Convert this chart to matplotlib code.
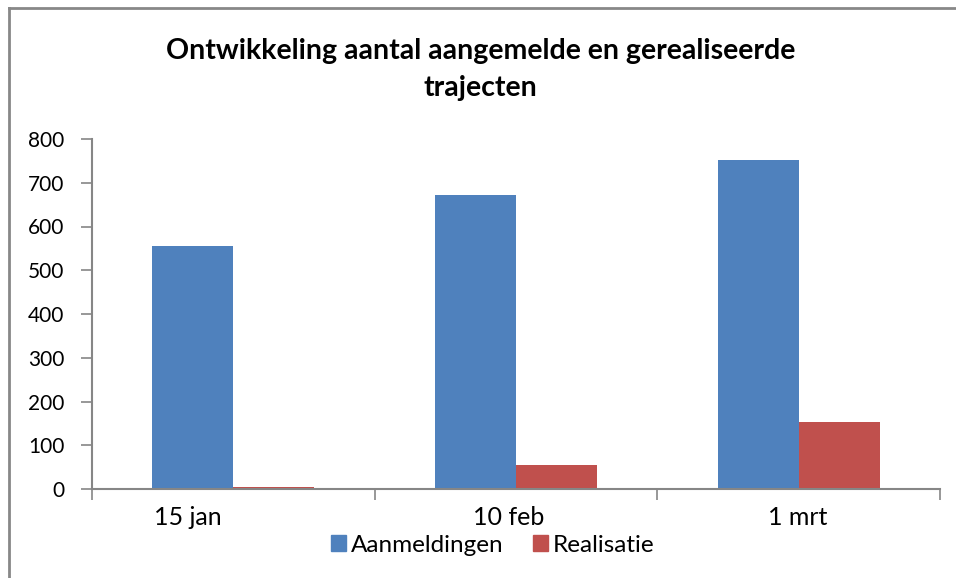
import matplotlib
matplotlib.use("Agg")
import matplotlib.pyplot as plt
import matplotlib.transforms as mtransforms
from matplotlib.lines import Line2D
from matplotlib.patches import Patch
import numpy as np

plt.rcParams['font.family'] = ['Lato', 'DejaVu Sans']

categories = ["15 jan", "10 feb", "1 mrt"]
aanmeldingen = [555, 673, 753]
realisatie = [4, 55, 153]
series_names = ["Aanmeldingen", "Realisatie"]
yticks = [0, 100, 200, 300, 400, 500, 600, 700, 800]

blue = '#4F81BD'
red = '#C0504D'
gray = '#868686'

W, H = 956, 578
fig = plt.figure(figsize=(W / 100, H / 100), dpi=100)
fig.patch.set_facecolor('white')

ax = fig.add_axes([92 / W, 1 - 489 / H, (940 - 92) / W, (489 - 139) / H])
x = np.arange(len(categories))
bw = 0.286
ax.bar(x - bw / 2, aanmeldingen, bw, color=blue, label=series_names[0])
ax.bar(x + bw / 2, realisatie, bw, color=red, label=series_names[1])

ax.set_xlim(-0.5, len(categories) - 0.5)
ax.set_ylim(0, 800)
ax.set_yticks(yticks)
ax.tick_params(axis='y', direction='out', length=8, width=1.2, color=gray,
               labelsize=15, pad=12)
for s in ['top', 'right']:
    ax.spines[s].set_visible(False)
for s in ['left', 'bottom']:
    ax.spines[s].set_color(gray)
    ax.spines[s].set_linewidth(1.5)

# category boundaries as major ticks, labels on minor ticks
ax.set_xticks(np.arange(-0.5, len(categories)))
ax.set_xticklabels([])
ax.tick_params(axis='x', which='major', direction='out', length=8, width=1.2, color=gray)
ax.set_xticks(x, minor=True)
ax.set_xticklabels(categories, minor=True)
ax.tick_params(axis='x', which='minor', length=0, labelsize=18, pad=12)
# excel places these labels a little left of the category centre
label_shift_px = [-46, -7, -1]
for lbl, dx in zip(ax.get_xticklabels(minor=True), label_shift_px):
    lbl.set_transform(lbl.get_transform() + mtransforms.ScaledTranslation(dx / 100, 0, fig.dpi_scale_trans))

fig.text(0.503, 1 - 51 / H, "Ontwikkeling aantal aangemelde en gerealiseerde",
         ha='center', va='center', fontsize=20.5, fontweight='bold')
fig.text(0.503, 1 - 88 / H, "trajecten",
         ha='center', va='center', fontsize=20.5, fontweight='bold')

handles = [Patch(color=blue), Patch(color=red)]
fig.legend(handles, series_names, loc='center', bbox_to_anchor=(493 / W, 1 - 545 / H),
           ncol=2, frameon=False, fontsize=17.5, handlelength=0.62, handleheight=0.62,
           handletextpad=0.2, columnspacing=1.2, borderpad=0)

# outer chart border (partially visible)
fig.add_artist(Line2D([8.5 / W, 8.5 / W], [0, 1 - 7.5 / H], transform=fig.transFigure,
                      color='#888888', lw=2))
fig.add_artist(Line2D([8.5 / W, 1], [1 - 7.5 / H, 1 - 7.5 / H], transform=fig.transFigure,
                      color='#888888', lw=2))

fig.savefig("out.png", dpi=100)
